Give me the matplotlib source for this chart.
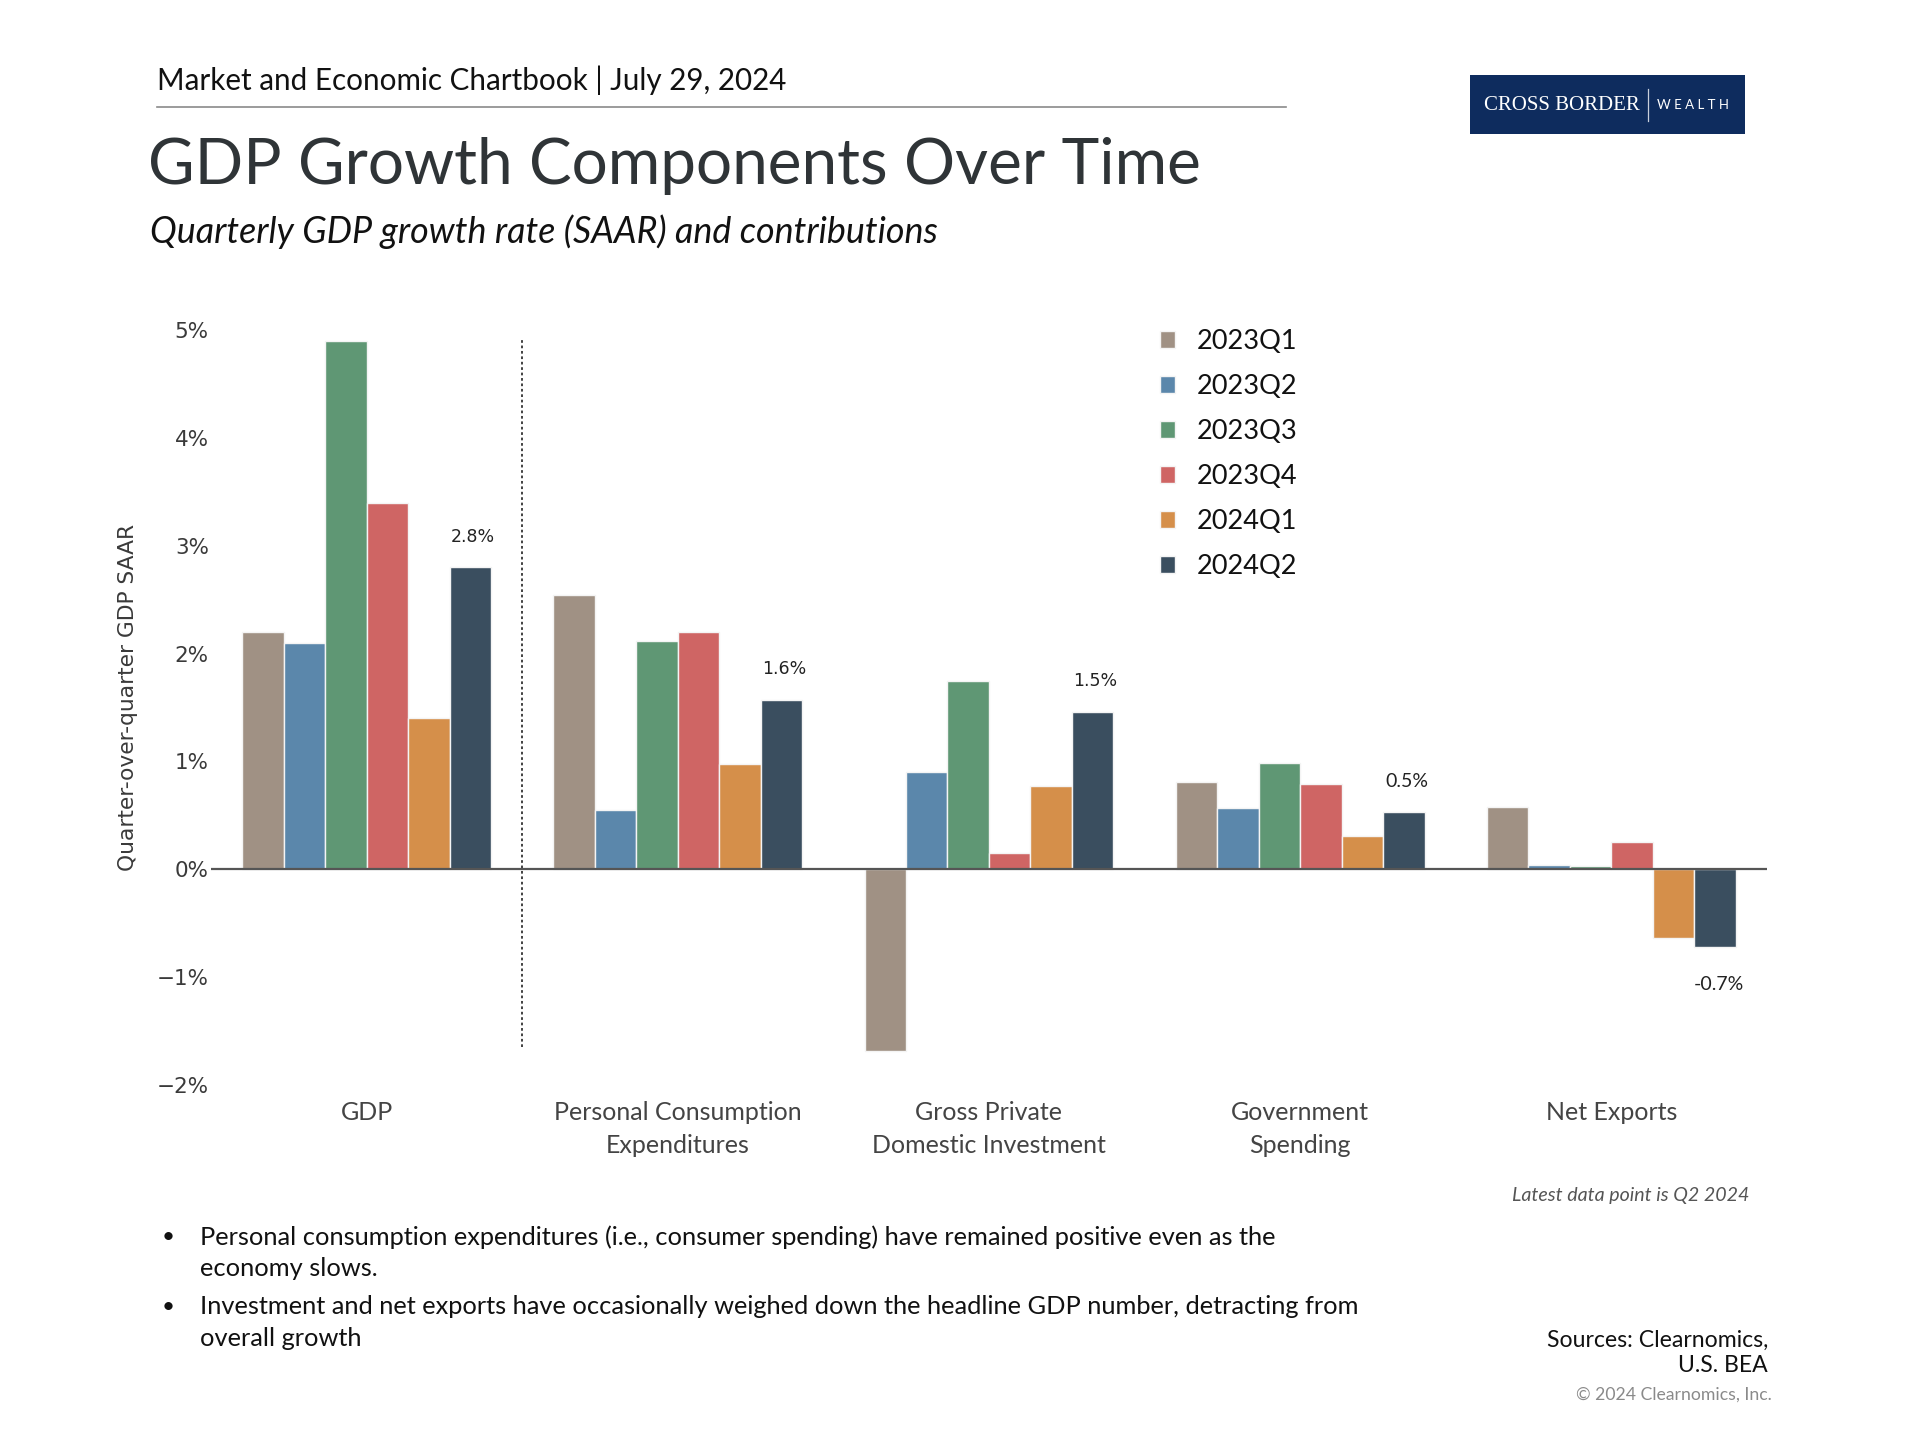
import matplotlib
matplotlib.use("Agg")
import matplotlib.pyplot as plt
from matplotlib.patches import Rectangle
from matplotlib.lines import Line2D
from matplotlib.ticker import FuncFormatter
import numpy as np

# ---- data ----
categories = ["GDP", "Personal Consumption\nExpenditures", "Gross Private\nDomestic Investment",
              "Government\nSpending", "Net Exports"]
quarters = ["2023Q1", "2023Q2", "2023Q3", "2023Q4", "2024Q1", "2024Q2"]
q1_2023 = [2.20, 2.54, -1.68, 0.81, 0.58]
q2_2023 = [2.10, 0.55, 0.90, 0.57, 0.04]
q3_2023 = [4.90, 2.12, 1.75, 0.99, 0.03]
q4_2023 = [3.40, 2.20, 0.15, 0.79, 0.25]
q1_2024 = [1.40, 0.98, 0.77, 0.31, -0.64]
q2_2024 = [2.80, 1.57, 1.46, 0.53, -0.72]
latest_labels = ["2.8%", "1.6%", "1.5%", "0.5%", "-0.7%"]
y_ticks = [-2, -1, 0, 1, 2, 3, 4, 5]

series = [q1_2023, q2_2023, q3_2023, q4_2023, q1_2024, q2_2024]
colors = ["#a09184", "#5b87ab", "#5f9774", "#cf6564", "#d58f4a", "#3a4e5f"]

TEXT_FONT = ["Lato", "DejaVu Sans"]

fig = plt.figure(figsize=(19.2, 14.4), dpi=100)
fig.patch.set_facecolor("white")
ax = fig.add_axes([0.1099, 0.2465, 0.8104, 0.5243])

x = np.arange(len(categories))
n = len(series)
width = 0.8 / n
bars = []
for i, vals in enumerate(series):
    b = ax.bar(x + (i - (n - 1) / 2) * width, vals, width, color=colors[i],
               edgecolor="#f4f4f4", linewidth=1.0, label=quarters[i], zorder=2)
    bars.append(b)

# labels over the latest quarter
for j, rect in enumerate(bars[-1]):
    h = rect.get_height()
    cx = rect.get_x() + rect.get_width() / 2
    fam = ["DejaVu Sans"] if j < 3 else TEXT_FONT
    size = 12.5 if j < 3 else 14
    if h >= 0:
        ax.annotate(latest_labels[j], (cx, h), xytext=(2, 22), textcoords="offset points",
                    ha="center", va="center", fontsize=size, color="#222222", family=fam)
    else:
        ax.annotate(latest_labels[j], (cx, h), xytext=(3, -27), textcoords="offset points",
                    ha="center", va="center", fontsize=size, color="#222222", family=fam)

ax.axhline(0, color="#555555", linewidth=1.6, zorder=3)
ax.vlines(0.5, -1.65, 4.91, colors="#333333", linestyles=(0, (1.5, 1.5)), linewidth=1.3)

ax.set_xlim(-0.5, 4.5)
ax.set_ylim(-2, 5)
ax.set_yticks(y_ticks)
ax.yaxis.set_major_formatter(FuncFormatter(lambda v, p: f"{v:.0f}%".replace("-", "\u2212")))
for s in ax.spines.values():
    s.set_visible(False)
ax.tick_params(axis="y", length=0, pad=1.5, labelsize=15.5, labelcolor="#3a3a3a")
ax.tick_params(axis="x", length=0, pad=11.5)
ax.set_xticks(x)
ax.set_xticklabels(categories, fontsize=18, color="#444444", family=TEXT_FONT, linespacing=1.55)
ax.set_ylabel("Quarter-over-quarter GDP SAAR", fontsize=15.7, color="#3a3a3a")
ax.yaxis.set_label_coords(-0.047, 0.514)

leg = ax.legend(loc="upper left", bbox_to_anchor=(1160 / 1920, 1 - 329 / 1440),
                bbox_transform=fig.transFigure, frameon=False,
                handlelength=0.55, handleheight=0.55, handletextpad=0.8,
                labelspacing=0.74, borderpad=0, borderaxespad=0,
                prop={"family": TEXT_FONT, "size": 19.5})
for t in leg.get_texts():
    t.set_color("#111111")

# ---- header ----
fig.text(157 / 1920, 1 - 80 / 1440, "Market and Economic Chartbook | July 29, 2024",
         fontsize=21.3, color="#111111", family=TEXT_FONT, va="center", ha="left")
fig.add_artist(Line2D([157 / 1920, 1286 / 1920], [1 - 107 / 1440, 1 - 107 / 1440],
                      color="#8a8a8a", linewidth=1.2))
fig.text(148 / 1920, 1 - 166 / 1440, "GDP Growth Components Over Time",
         fontsize=46, color="#2f3437", family=TEXT_FONT, va="center", ha="left")
fig.text(150 / 1920, 1 - 232 / 1440, "Quarterly GDP growth rate (SAAR) and contributions",
         fontsize=25.8, color="#111111", family=TEXT_FONT, style="italic", va="center", ha="left")

# logo
fig.add_artist(Rectangle((1470 / 1920, 1 - 134 / 1440), 275 / 1920, 59 / 1440,
                         transform=fig.transFigure, facecolor="#0e2c5e", edgecolor="none"))
fig.text(1484 / 1920, 1 - 105 / 1440, "CROSS BORDER", fontsize=15, color="white",
         family=["Liberation Serif", "DejaVu Serif"], va="center", ha="left")
fig.add_artist(Line2D([1648 / 1920, 1648 / 1920], [1 - 89 / 1440, 1 - 121 / 1440],
                      color="#c8cfdc", linewidth=0.9))
fig.text(1657 / 1920, 1 - 105 / 1440, "W E A L T H", fontsize=9.5, color="white",
         family=TEXT_FONT, va="center", ha="left")

# ---- footer ----
fig.text(1749 / 1920, 1 - 1195 / 1440, "Latest data point is Q2 2024", fontsize=14.1,
         color="#555555", family=TEXT_FONT, style="italic", va="center", ha="right")

bullets = [
    ("Personal consumption expenditures (i.e., consumer spending) have remained positive even as the",
     "economy slows."),
    ("Investment and net exports have occasionally weighed down the headline GDP number, detracting from",
     "overall growth"),
]
ys = [1237, 1307]
for (l1, l2), yy in zip(bullets, ys):
    fig.text(162 / 1920, 1 - yy / 1440, "\u2022", fontsize=16, color="#111111",
             family=TEXT_FONT, va="center", ha="left")
    fig.text(200 / 1920, 1 - yy / 1440, l1, fontsize=18.3, color="#111111",
             family=TEXT_FONT, va="center", ha="left")
    fig.text(200 / 1920, 1 - (yy + 32) / 1440, l2, fontsize=18.3, color="#111111",
             family=TEXT_FONT, va="center", ha="left")

fig.text(1768 / 1920, 1 - 1340 / 1440, "Sources: Clearnomics,", fontsize=16.6, color="#111111",
         family=TEXT_FONT, va="center", ha="right")
fig.text(1768 / 1920, 1 - 1366 / 1440, "U.S. BEA", fontsize=16.6, color="#111111",
         family=TEXT_FONT, va="center", ha="right")
fig.text(1772 / 1920, 1 - 1395 / 1440, "\u00a9 2024 Clearnomics, Inc.", fontsize=12.7,
         color="#8a8a8a", family=TEXT_FONT, va="center", ha="right")

fig.savefig("out.png", dpi=100, facecolor="white")
plt.close(fig)
